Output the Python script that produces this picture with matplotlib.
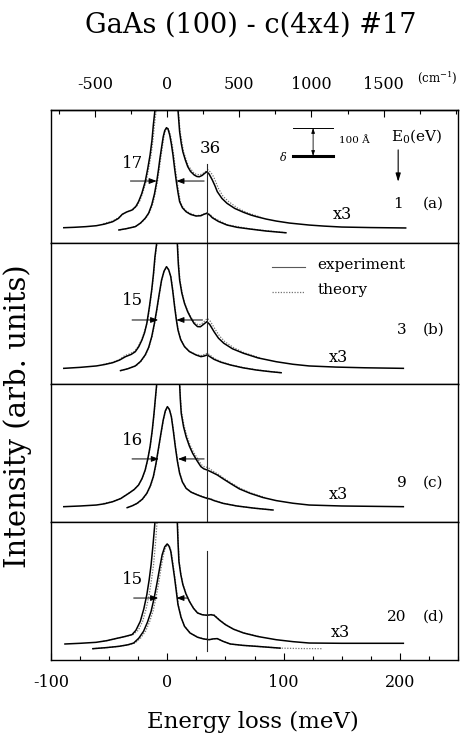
import numpy as np
import matplotlib
matplotlib.use("Agg")
import matplotlib.pyplot as plt
from matplotlib.ticker import MultipleLocator


# =========================
# Data
# energy loss in meV, intensity in panel units (0..100 = panel height)
# "OUT" = x3 magnified trace, "IN" = unmagnified trace, "TH" = theory
# =========================

MEV_TO_CM = 8.0655

FWHM_LABELS = ["17", "15", "16", "15"]
E0_LABELS = ["1", "3", "9", "20"]
PANEL_TAGS = ["(a)", "(b)", "(c)", "(d)"]
PHONON_LABEL = "36"
PHONON_E = 34

# panel (a), E0 = 1 eV
A_OUT_E = [-89, -80, -70, -61, -54, -47, -42, -38.7, -35, -30.3, -27, -24.7, -22, -19, -16.8,
           -14.8, -13.2, -12, -10.6, -5, 0, 5, 9.2, 10.6, 12, 13.4, 15.5, 17.6, 20, 23.2, 25.5,
           27.5, 30, 32, 34, 36, 38.7, 41, 43, 47, 51.4, 58, 65.5, 72, 76.8, 85, 93.7, 105,
           122, 135, 150, 175, 205]
A_OUT_I = [11.5, 11.8, 12.3, 13.0, 14.2, 16.0, 18.5, 21.6, 23.3, 24.8, 27.5, 31.1, 37, 46.1, 56,
           66.2, 77, 88.7, 100, 190, 240, 190, 100, 83.7, 75, 68.6, 62.5, 57.4, 53.8, 51.1, 50.0,
           49.8, 50.8, 52.3, 53.6, 51.8, 47.4, 43, 38.6, 33.5, 29.8, 26, 23.1, 21.0, 19.8, 18.0,
           16.5, 15.0, 13.5, 12.7, 12.0, 11.6, 11.3]
A_IN_E = [-41.6, -35, -27.5, -23, -19, -16, -13.4, -11, -9.1, -7.6, -6.3, -4.8, -3.5, -2.2, -0.7,
          0.6, 2.1, 3.5, 4.9, 6.3, 7.8, 9.2, 10.6, 13, 16.2, 20, 24.7, 28.9, 31.5, 34, 36.5,
          38.7, 44, 51.4, 60, 71.2, 85, 102]
A_IN_I = [9.8, 10.8, 12.3, 15.0, 18.6, 22.5, 28.6, 37, 46.1, 55, 63.7, 72.5, 79.9, 84.5, 86.7,
          85.8, 81.2, 74.5, 66.2, 56, 46.1, 38, 31.1, 26.5, 23.5, 21.5, 20.3, 20.5, 21.6, 22.3,
          21, 19.0, 16.2, 13.5, 11.8, 10.5, 9.0, 7.7]
A_OUT_TH_E = [-55, -47, -42, -38, -34, -29.5, -26, -23.5, -21, -18, -15.8, -13.8, -12.2, -11,
              -9.5, 0, 9.5, 11, 14, 18, 23.5, 28, 31, 35, 37.5, 40, 44, 48, 53, 60, 68, 80]
A_OUT_TH_I = [14.5, 16.5, 19.0, 21.8, 23.6, 25.0, 28.0, 32, 38, 47, 57, 67, 78, 89, 100, 235,
              100, 84, 68.5, 58, 52, 51.2, 52.5, 55, 53, 49.5, 41, 35, 31, 26.5, 23, 19.5]
A_IN_TH_E = [-41, -33, -27, -22, -18, -15, -12.4, -10.2, -8.4, -6.9, -5.6, -4.1, -2.8, -1.5, 0,
             1.3, 2.8, 4.2, 5.6, 7, 8.5, 10, 11.3, 13.6, 16.8, 25, 30, 34.5, 37, 40, 52, 72, 102]
A_IN_TH_I = [9.8, 11.2, 12.6, 15.6, 19.2, 23.5, 29.5, 38, 46.5, 55.5, 64, 73, 80.3, 85, 86.5,
             85.3, 80.5, 74, 65.8, 55.5, 45.8, 37.5, 30.8, 26.5, 23.5, 20.5, 21.2, 22.8, 21.2,
             18.8, 13.6, 10.5, 7.7]

# panel (b), E0 = 3 eV
B_OUT_E = [-89, -75, -61, -54, -47, -41, -35.9, -31, -27.5, -24.5, -21.8, -19.5, -17.6, -15.5,
           -13.4, -11.9, -10.6, -9.1, 0, 8.6, 9.5, 10.6, 12.5, 14.8, 17.5, 20.4, 23, 26, 28.5, 31,
           34, 36.5, 40.2, 44, 48.6, 56, 65.5, 78, 93.7, 108, 122, 145, 170, 203]
B_OUT_I = [11.1, 11.8, 12.8, 13.8, 15.1, 17.0, 19.4, 21.0, 22.9, 26.5, 31.2, 36.5, 43.0, 54,
           66.7, 78, 90.3, 100, 250, 100, 85, 73.8, 64.5, 57.2, 51.3, 46.6, 43.0, 40.7, 40.6,
           42.2, 44.2, 42.2, 37.1, 32.5, 28.9, 25, 21.8, 18.5, 15.8, 14.0, 12.8, 12.0, 11.5, 11.1]
B_IN_E = [-40.2, -34, -27.5, -23, -19, -16, -13.4, -11.2, -9.1, -7, -4.9, -2.8, -0.7, 1.2, 3,
          4.7, 6.3, 7.8, 9.2, 11.5, 14.8, 19, 24.7, 28.9, 31.5, 34.3, 37, 40.2, 46, 54.2, 65,
          76.8, 88, 97.9]
B_IN_I = [9.5, 10.8, 12.8, 16.0, 20.6, 26.0, 33.5, 42.5, 52.5, 63.5, 73.8, 80, 83.2, 81, 76.1,
          66, 54.8, 45.5, 38.3, 31.5, 26.5, 23.0, 20.6, 19.4, 19.8, 20.6, 19.2, 17.5, 15.5, 13.5,
          11.5, 9.9, 8.8, 8.0]
B_OUT_TH_E = [-55, -47, -41, -36.5, -32, -28, -25, -22, -19.7, -17, -15, -13, -11.5, -10.2,
              -8.8, 0, 8.8, 9.8, 11, 13, 15, 18, 20.8, 23.5, 26.5, 29, 31.5, 34.5, 37, 41, 45,
              49.5, 57, 66, 80]
B_OUT_TH_I = [13.9, 15.4, 17.4, 20.2, 21.5, 23.3, 26.8, 31.5, 37, 44.5, 55.5, 68, 79.5, 91, 100,
              245, 100, 85, 73, 64, 57, 51, 46.8, 43.5, 42.0, 42.3, 44.2, 46.5, 44.5, 39.0, 34.0,
              30.0, 25.8, 22.2, 18.5]
B_IN_TH_E = [-40, -33.5, -27, -22.5, -18.5, -15.7, -13, -10.9, -8.8, -6.8, -4.7, -2.6, -0.5,
             1.4, 3.2, 4.9, 6.5, 8, 9.4, 11.7, 15, 19.2, 25, 29.5, 32, 34.5, 37.5, 41, 47, 55, 66,
             78, 98]
B_IN_TH_I = [9.5, 10.9, 12.8, 16.2, 20.8, 26.3, 33.8, 42.8, 52.8, 63.7, 73.8, 80, 83.0, 80.8,
             76.0, 66, 54.8, 45.5, 38.3, 31.5, 26.5, 23.1, 20.8, 20.2, 21.0, 21.8, 20.0, 17.8,
             15.6, 13.5, 11.5, 9.9, 8.0]

# panel (c), E0 = 9 eV
C_OUT_E = [-89, -75, -61, -54, -47, -40, -33.1, -28.5, -24.7, -21.7, -19, -16.8, -14.8, -13,
           -11.4, -10.2, -9.1, 0, 10.6, 11.2, 12, 14, 16.2, 19, 21.8, 25.5, 28.9, 31.5, 34.3,
           38.5, 43, 48, 54.2, 62, 71.2, 82, 93.7, 108, 122, 150, 203]
C_OUT_I = [11.1, 11.6, 12.3, 13.2, 14.7, 17.0, 20.8, 23.5, 26.8, 31.5, 37.7, 45.5, 54.6, 66,
           78.8, 90, 100, 260, 100, 89, 78.8, 69, 61.8, 55, 49.8, 44.5, 40.1, 38.5, 37.7, 36.0,
           34.1, 31.3, 28.0, 24.0, 20.8, 17.8, 15.5, 13.6, 12.3, 11.6, 11.1]
C_IN_E = [-34.5, -30, -26, -21.5, -17.6, -14.6, -12, -9.8, -7.8, -5.6, -3.5, -1.7, 0.1, 1.8, 3.5,
          5.2, 6.9, 8.7, 10.6, 13, 16.2, 20.5, 26, 30, 34.3, 37, 40.2, 48, 59.9, 75, 90.9]
C_IN_I = [10.4, 11.8, 13.5, 16.5, 20.8, 26.2, 32.9, 42, 52.2, 63.5, 73.9, 80.5, 83.6, 81.5, 76.3,
          66, 54.6, 44, 35.3, 29, 24.4, 21.6, 19.6, 18.3, 17.1, 16.6, 15.5, 13.5, 11.6, 10.0, 8.7]
C_OUT_TH_E = [-55, -47, -40, -33, -28.3, -24.5, -21.5, -18.8, -16.6, -14.6, -12.8, -11.2, -10,
              -8.9, 0, 10.8, 11.4, 12.3, 14.4, 16.6, 19.4, 22.3, 26, 29.3, 32, 35, 39, 43.5, 48.5,
              55, 63, 72, 84]
C_OUT_TH_I = [13.4, 14.8, 17.2, 21.0, 23.8, 27.0, 31.8, 38.0, 46, 55.0, 66.5, 79.5, 90.5, 100,
              255, 100, 89.5, 79.5, 70, 63.0, 56.2, 51.0, 46.0, 41.5, 40.0, 39.5, 37.0, 34.8,
              31.8, 28.3, 24.3, 21.0, 17.8]
C_IN_TH_E = [-34, -29.7, -25.6, -21.2, -17.3, -14.3, -11.7, -9.6, -7.6, -5.4, -3.3, -1.5, 0.3, 2,
             3.7, 5.4, 7.1, 8.9, 10.8, 13.2, 16.4, 20.7, 26, 30, 34.5, 37.5, 40.5, 48, 60, 75, 91]
C_IN_TH_I = [10.4, 11.8, 13.5, 16.5, 20.8, 26.2, 32.9, 42, 52.2, 63.5, 73.9, 80.3, 83.4, 81.3,
             76.0, 66, 54.6, 44, 35.3, 29, 24.4, 21.7, 19.8, 18.6, 17.4, 16.8, 15.6, 13.6, 11.6,
             10.0, 8.7]

# panel (d), E0 = 20 eV
D_OUT_E = [-88, -75, -61.3, -52, -44.4, -37, -30.3, -27, -23.2, -20.2, -17.6, -15.6, -13.9,
           -12.2, -10.6, 0, 8.6, 9.3, 10, 11.6, 13.4, 16, 19, 22.5, 26, 30, 34.3, 37.5, 40.2, 45,
           50, 57, 65.5, 78, 93.7, 108, 122, 150, 203]
D_OUT_I = [11.6, 12.1, 12.8, 14.0, 15.5, 16.9, 18.4, 21.5, 28.0, 37, 47.3, 58, 69.1, 84, 100,
           250, 100, 84, 71.5, 62, 54.6, 48, 42.5, 37.5, 34.1, 32.8, 32.4, 32.8, 32.4, 28.8, 25.6,
           22.3, 19.6, 17.0, 14.7, 13.3, 12.3, 12.1, 12.1]
D_IN_E = [-64, -52, -41.6, -34, -28.9, -24.5, -20.4, -17, -13.9, -11.4, -9.1, -6.7, -4.4, -2.2,
          -0.1, 1.5, 3, 4.6, 6.3, 7.8, 9.2, 11.8, 14.8, 19.5, 26, 31, 35.9, 39.5, 43, 48, 54.2,
          65, 76.8, 97]
D_IN_I = [8.2, 9.0, 9.9, 11.0, 12.3, 15.8, 20.8, 27.5, 35.3, 44.5, 54.6, 66, 76.3, 82, 84.1,
          82.5, 78.8, 69.5, 59.4, 49.5, 40.1, 31, 24.4, 19.6, 16.5, 15.3, 14.7, 15.3, 15.5, 13.5,
          11.6, 10.6, 9.9, 8.6]
D_OUT_TH_E = [-55, -44, -36, -29.5, -25, -21.2, -18.2, -15.6, -13.6, -11.8, -10.2, -8.8, 0, 8.8,
              9.5, 10.2, 11.8, 13.6, 16.2, 19.2, 22.7, 26.2, 30.2, 34.5, 37.7, 40.5, 45.2, 50.5,
              57, 66, 80]
D_OUT_TH_I = [13.6, 15.5, 17.0, 18.4, 21.5, 28.0, 37, 47.3, 58, 69.1, 84, 100, 245, 100, 84,
              71.5, 62, 54.6, 48, 42.5, 37.5, 34.1, 32.9, 32.6, 33.0, 32.6, 29.0, 25.6, 22.3,
              19.6, 16.9]
D_IN_TH_E = [-64, -52, -41.6, -33, -27.5, -22.8, -18.6, -15.2, -12.2, -9.8, -7.6, -5.4, -3.3,
             -1.4, 0.5, 2, 3.4, 5, 6.6, 8.1, 9.5, 12, 15, 19.7, 26, 31, 36, 39.7, 43, 48, 54, 65,
             77, 97, 115, 133]
D_IN_TH_I = [8.2, 9.0, 9.9, 11.1, 12.4, 16.0, 21.0, 27.7, 35.5, 44.7, 54.8, 66.2, 76.2, 81.8,
             83.6, 82.2, 78.5, 69.5, 59.4, 49.5, 40.1, 31, 24.4, 19.7, 16.6, 15.4, 14.8, 15.4,
             15.5, 13.5, 11.6, 10.6, 9.9, 8.6, 8.3, 8.2]

# FWHM arrows: (height, left tail, left tip, right tail, right tip)
FWHM_ARROWS = [
    (46.6, -31.7, -9.1, 31.7, 7.8),
    (45.4, -30.3, -7.8, 30.3, 7.8),
    (45.7, -30.3, -7.2, 31.7, 9.2),
    (44.9, -28.9, -7.8, 17.6, 7.8),
]


# =========================
# Style
# =========================

plt.rcParams["font.family"] = ["DejaVu Serif"]
plt.rcParams["mathtext.fontset"] = "dejavuserif"
plt.rcParams["axes.unicode_minus"] = False

W, H = 462, 742
LEFT, RIGHT, TOP, BOTTOM = 51, 458, 110, 660
PANEL_PX = [133, 141, 138, 138]

EXP_KW = dict(color="black", lw=1.1, solid_joinstyle="round")
TH_KW = dict(color="0.45", lw=0.9, linestyle=(0, (1, 1.2)))


def draw_panel(ax, out_e, out_i, in_e, in_i, out_th_e, out_th_i, in_th_e, in_th_i):
    ax.plot(out_th_e, out_th_i, **TH_KW)
    ax.plot(in_th_e, in_th_i, **TH_KW)
    ax.plot(out_e, out_i, **EXP_KW)
    ax.plot(in_e, in_i, **EXP_KW)
    ax.set_xlim(-100, 250)
    ax.set_ylim(0, 100)
    for s in ax.spines.values():
        s.set_linewidth(1.0)
    ax.tick_params(bottom=False, labelbottom=False, left=False, labelleft=False)


def fwhm_arrows(ax, spec, label):
    y, lt, lh, rt, rh = spec
    ap = dict(arrowstyle="-|>,head_length=0.45,head_width=0.17", lw=0.7, color="black",
              shrinkA=0, shrinkB=0)
    ax.annotate("", xy=(lh, y), xytext=(lt, y), arrowprops=ap)
    ax.annotate("", xy=(rh, y), xytext=(rt, y), arrowprops=ap)
    ax.text(0.201, y / 100 + 0.135, label, transform=ax.transAxes, ha="center", va="center",
            fontsize=12)


def main():
    fig = plt.figure(figsize=(W / 100, H / 100), dpi=100)

    axes = []
    y_top = TOP
    for h in PANEL_PX:
        rect = [LEFT / W, 1 - (y_top + h) / H, (RIGHT - LEFT) / W, h / H]
        axes.append(fig.add_axes(rect))
        y_top += h

    data = [
        (A_OUT_E, A_OUT_I, A_IN_E, A_IN_I, A_OUT_TH_E, A_OUT_TH_I, A_IN_TH_E, A_IN_TH_I),
        (B_OUT_E, B_OUT_I, B_IN_E, B_IN_I, B_OUT_TH_E, B_OUT_TH_I, B_IN_TH_E, B_IN_TH_I),
        (C_OUT_E, C_OUT_I, C_IN_E, C_IN_I, C_OUT_TH_E, C_OUT_TH_I, C_IN_TH_E, C_IN_TH_I),
        (D_OUT_E, D_OUT_I, D_IN_E, D_IN_I, D_OUT_TH_E, D_OUT_TH_I, D_IN_TH_E, D_IN_TH_I),
    ]

    e0_pos = [(0.853, 0.293), (0.862, 0.383), (0.862, 0.283), (0.85, 0.312)]
    x3_pos = [(0.717, 0.218), (0.705, 0.191), (0.705, 0.196), (0.71, 0.196)]
    vline_span = [(0.0, 0.592), (0.0, 1.0), (0.0, 1.0), (0.065, 0.79)]

    for i, ax in enumerate(axes):
        draw_panel(ax, *data[i])
        fwhm_arrows(ax, FWHM_ARROWS[i], FWHM_LABELS[i])
        ax.axvline(PHONON_E, ymin=vline_span[i][0], ymax=vline_span[i][1], color="0.15", lw=0.8)
        ax.text(*e0_pos[i], E0_LABELS[i], transform=ax.transAxes, ha="center", va="center",
                fontsize=11)
        ax.text(0.939, e0_pos[i][1], PANEL_TAGS[i], transform=ax.transAxes, ha="center",
                va="center", fontsize=11)
        ax.text(*x3_pos[i], "x3", transform=ax.transAxes, ha="center", va="center", fontsize=11.5)

    # --- panel (a) extras: phonon label, E0 header, inset sketch
    ax = axes[0]
    ax.text(0.391, 0.714, PHONON_LABEL, transform=ax.transAxes, ha="center", va="center",
            fontsize=12)
    ax.text(0.899, 0.805, r"E$_0$(eV)", transform=ax.transAxes, ha="center", va="center",
            fontsize=11)
    ax.annotate("", xy=(0.853, 0.46), xytext=(0.853, 0.70), xycoords="axes fraction",
                arrowprops=dict(arrowstyle="-|>,head_length=0.5,head_width=0.15", lw=0.8,
                                color="black", shrinkA=0, shrinkB=0))
    ax.plot([0.595, 0.693], [0.865, 0.865], transform=ax.transAxes, color="black", lw=0.7)
    ax.plot([0.595, 0.693], [0.654, 0.654], transform=ax.transAxes, color="black", lw=2.2)
    ax.annotate("", xy=(0.644, 0.865), xytext=(0.644, 0.654), xycoords="axes fraction",
                arrowprops=dict(arrowstyle="<|-|>,head_length=0.3,head_width=0.1", lw=0.6,
                                color="black", shrinkA=0, shrinkB=0))
    ax.text(0.745, 0.77, "100 Å", transform=ax.transAxes, ha="center", va="center", fontsize=7.5)
    ax.text(0.57, 0.654, r"$\delta$", transform=ax.transAxes, ha="center", va="center",
            fontsize=8, style="italic")

    # top axis in wavenumbers
    sec = ax.secondary_xaxis("top", functions=(lambda e: e * MEV_TO_CM, lambda w: w / MEV_TO_CM))
    sec.set_xticks([-500, 0, 500, 1000, 1500])
    sec.set_xticklabels(["-500", "0", "500", "1000", "1500"], fontsize=11.5)
    sec.xaxis.set_minor_locator(MultipleLocator(250))
    sec.tick_params(which="major", direction="in", length=5, width=0.8, pad=12)
    sec.tick_params(which="minor", direction="in", length=3, width=0.8)
    sec.spines["top"].set_linewidth(1.0)
    fig.text(458 / W, 1 - 78 / H, r"(cm$^{-1}$)", ha="right", va="center", fontsize=8.5)

    # --- panel (b) legend
    ax = axes[1]
    ax.plot([0.543, 0.624], [0.833, 0.833], transform=ax.transAxes, color="0.35", lw=0.8)
    ax.plot([0.543, 0.624], [0.655, 0.655], transform=ax.transAxes, **TH_KW)
    ax.text(0.654, 0.845, "experiment", transform=ax.transAxes, ha="left", va="center",
            fontsize=11)
    ax.text(0.654, 0.665, "theory", transform=ax.transAxes, ha="left", va="center", fontsize=11)

    # --- bottom axis
    ax = axes[3]
    ax.tick_params(bottom=True, labelbottom=True)
    ax.set_xticks([-100, 0, 100, 200])
    ax.set_xticklabels(["-100", "0", "100", "200"], fontsize=11.5)
    ax.xaxis.set_minor_locator(MultipleLocator(25))
    ax.tick_params(which="major", direction="in", length=5, width=0.8, pad=10)
    ax.tick_params(which="minor", direction="in", length=3, width=0.8)

    fig.text(253 / W, 1 - 722 / H, "Energy loss (meV)", ha="center", va="center", fontsize=16.5)
    fig.text(18 / W, 1 - 416 / H, "Intensity (arb. units)", ha="center", va="center",
             rotation=90, fontsize=21)
    fig.text(251 / W, 1 - 25 / H, "GaAs (100) - c(4x4) #17", ha="center", va="center",
             fontsize=19.5)

    fig.savefig("out.png", dpi=100)


if __name__ == "__main__":
    main()
